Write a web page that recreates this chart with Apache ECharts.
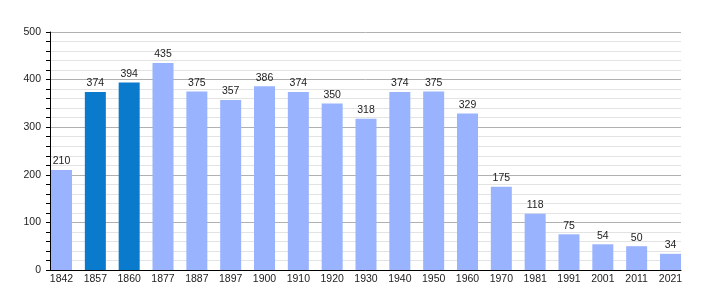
<!DOCTYPE html>
<html><head><meta charset="utf-8">
<script src="https://cdn.jsdelivr.net/npm/echarts@6/dist/echarts.min.js"></script>
<style>html,body{margin:0;padding:0;background:#fff}#c{width:710px;height:300px}</style>
</head><body><div id="c"></div>
<script>
const years = ['1842','1857','1860','1877','1887','1897','1900','1910','1920','1930','1940','1950','1960','1970','1981','1991','2001','2011','2021'];
const population = [210,374,394,435,375,357,386,374,350,318,374,375,329,175,118,75,54,50,34];
const highlighted = ['1857','1860'];
const yTicks = [0,100,200,300,400,500];

const FONT = '"Liberation Sans", Arial, sans-serif';
const chart = echarts.init(document.getElementById('c'), null, {renderer:'canvas'});
chart.setOption({
  animation:false,
  backgroundColor:'#fff',
  grid:[
    {left:50, right:29, top:32, bottom:30},
    {left:44.6, width:642.8, top:32, bottom:30}
  ],
  xAxis:[
    {gridIndex:0, type:'value', min:0, max:1, axisLine:{show:true,lineStyle:{color:'#000',width:1}}, axisTick:{show:false}, axisLabel:{show:false}, splitLine:{show:false}},
    {gridIndex:1, type:'category', data:years, axisLine:{show:false}, axisTick:{show:false},
     axisLabel:{margin:4, fontSize:10.5, color:'#222', fontFamily:FONT, interval:0}}
  ],
  yAxis:[
    {gridIndex:0, type:'value', min:yTicks[0], max:yTicks[yTicks.length-1], interval:100,
     axisLine:{show:true,lineStyle:{color:'#000',width:1}},
     axisTick:{show:true,length:4,lineStyle:{color:'#000'}},
     minorTick:{show:true,splitNumber:5,length:4,lineStyle:{color:'#000'}},
     axisLabel:{margin:9,fontSize:10.5,color:'#222',fontFamily:FONT},
     splitLine:{show:true,lineStyle:{color:'#b0b0b0',width:1}},
     minorSplitLine:{show:true,lineStyle:{color:'#e3e3e3',width:1}}},
    {gridIndex:1, type:'value', min:0, max:500, show:false, splitLine:{show:false}}
  ],
  series:[{
    type:'bar', xAxisIndex:1, yAxisIndex:1, barWidth:21,
    data: population.map((v,i)=>({value:v, itemStyle:{color: highlighted.includes(years[i]) ? '#0a7acc' : '#99b3ff'}})),
    label:{show:true, position:'top', distance:3, fontSize:10.5, color:'#222', fontFamily:FONT}
  }]
});
</script></body></html>
